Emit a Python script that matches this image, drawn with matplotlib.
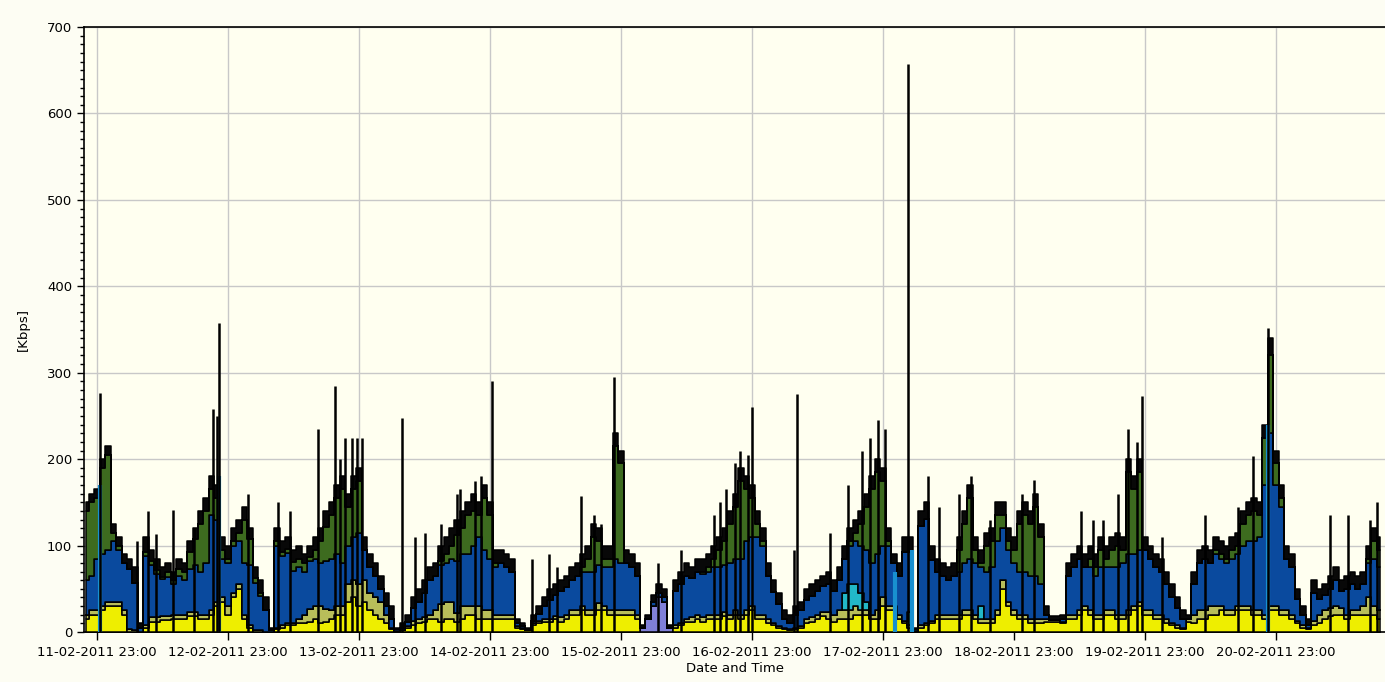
import numpy as np
import pandas as pd
import matplotlib
matplotlib.use("Agg")
import matplotlib.pyplot as plt
from matplotlib.ticker import MultipleLocator

# hourly samples, first one at 11-02-2011 21:00
start = pd.Timestamp("2011-02-11 21:00")

# layer heights in Kbps, bottom to top
yellow = [15,20,20,25,30,30,30,20,0,0,0,5,12,12,14,14,15,15,15,18,18,15,15,20,
          30,35,20,40,50,15,5,0,0,0,0,3,5,8,8,10,10,12,15,10,12,15,20,20,
          35,40,30,35,25,20,15,10,3,1,2,5,8,10,12,15,15,12,15,15,12,15,20,20,
          15,15,15,15,15,15,15,5,4,2,8,10,12,12,15,12,15,20,20,25,20,20,25,25,
          20,20,20,20,20,15,0,0,0,0,0,0,5,8,12,12,15,12,15,15,15,18,15,20,
          15,20,25,15,15,10,8,5,3,2,3,5,10,12,15,18,15,12,15,15,15,20,20,20,
          15,15,30,25,25,15,10,5,1,5,8,10,15,15,15,15,15,20,20,15,10,10,10,20,
          50,30,20,15,15,10,10,10,12,12,12,10,15,15,20,25,20,15,15,20,20,15,15,20,
          25,30,20,20,15,15,10,8,5,3,12,10,15,15,20,20,25,20,20,25,25,25,20,20,
          15,25,25,20,20,15,10,5,3,8,10,15,18,20,20,15,20,20,20,20,20,15]
olive = [5,5,5,5,5,5,5,5,3,2,0,3,5,5,5,5,5,5,5,5,5,5,5,5,
         5,5,10,5,5,5,3,2,2,0,0,2,3,3,3,5,10,15,15,20,15,10,10,10,
         20,20,25,25,20,20,20,10,2,0,0,2,5,5,5,5,10,20,20,20,10,15,10,10,
         15,10,10,5,5,5,5,2,1,0,2,3,3,3,3,5,5,5,5,5,5,5,8,5,
         5,5,5,5,5,5,0,0,0,0,0,0,3,3,3,5,5,5,5,5,5,5,5,5,
         5,5,5,5,5,5,3,2,2,1,2,2,5,5,5,5,8,8,10,10,10,10,5,5,
         5,10,10,5,5,5,3,3,0,3,3,3,5,5,5,5,5,5,5,5,5,5,5,5,
         10,5,5,5,5,5,5,5,3,2,2,2,5,5,5,5,5,5,5,5,5,5,5,5,
         5,5,5,5,5,5,5,3,3,2,3,10,10,10,10,10,5,5,5,5,5,5,5,5,
         5,5,5,5,5,5,3,3,2,5,10,10,10,10,8,5,5,5,10,20,10,10]
blue = [40,40,60,60,60,70,60,55,70,55,5,80,60,50,42,45,35,45,40,50,55,50,60,110,
        95,45,50,55,50,60,70,55,40,25,2,95,80,80,60,60,50,55,55,50,55,60,60,50,
        45,50,60,35,30,25,15,10,10,2,3,5,15,20,28,40,40,45,45,50,60,60,60,70,
        80,70,60,55,60,55,50,3,2,1,3,8,15,22,25,30,32,35,40,40,45,45,45,45,
        50,60,55,55,50,45,0,0,5,5,5,0,40,45,50,45,50,50,50,55,55,55,60,60,
        65,80,80,90,80,50,35,25,10,8,15,18,22,25,27,30,32,28,35,40,45,50,55,60,
        60,65,60,70,50,45,80,70,2,115,120,70,50,45,40,45,50,55,60,60,45,55,60,80,
        60,60,55,50,50,50,50,40,5,0,0,3,45,55,60,45,50,45,55,50,50,55,60,65,
        60,60,70,60,55,50,40,30,20,10,0,35,55,60,50,60,55,55,60,60,70,75,80,85,
        150,200,140,120,60,55,25,12,3,32,18,18,22,30,20,30,30,25,25,40,55,50]
green = [80,85,70,100,110,10,5,0,0,0,0,5,5,5,3,5,5,8,10,20,30,55,60,30,
         25,10,5,5,10,50,30,5,3,0,0,5,5,5,10,10,10,5,10,25,40,50,65,85,
         45,55,60,0,0,0,0,0,0,0,0,0,0,0,0,0,0,5,10,15,30,30,45,40,
         25,60,50,5,0,0,0,0,0,0,0,0,0,0,0,0,0,0,0,5,15,40,27,10,
         10,130,115,0,0,0,0,0,0,0,0,0,0,0,0,0,0,3,5,10,20,27,45,60,
         90,60,45,15,5,0,0,0,0,0,0,0,0,0,0,0,0,0,0,0,5,10,25,50,
         85,95,75,5,0,0,0,0,0,0,0,0,0,0,0,0,25,45,70,15,5,30,30,30,
         15,10,15,55,65,60,80,55,0,0,0,0,0,0,0,0,10,10,20,10,20,25,15,95,
         75,90,0,0,0,0,0,0,0,0,0,0,0,0,0,5,5,5,10,10,25,30,35,25,
         55,90,25,10,0,0,0,0,0,0,0,0,0,0,0,0,0,0,0,5,20,20]
black = [10,10,10,10,10,10,10,10,12,18,5,17,13,13,11,11,10,12,10,12,12,15,15,15,
         15,15,15,15,15,15,12,13,15,15,3,15,12,14,14,15,10,13,15,15,18,15,15,15,
         15,15,15,15,15,15,15,15,15,2,5,8,12,15,15,15,15,18,20,20,18,20,15,20,
         15,15,15,15,15,15,15,5,3,2,7,9,10,13,12,13,13,15,15,15,15,15,15,15,
         15,15,15,15,15,15,3,5,8,10,10,3,12,14,15,13,15,15,15,15,15,15,15,15,
         15,15,15,15,15,15,14,13,10,9,10,10,13,13,13,12,15,12,15,15,15,15,15,15,
         15,15,15,15,10,15,17,17,2,17,19,17,15,15,15,15,15,15,15,15,15,15,15,15,
         15,15,15,15,15,15,15,15,10,4,4,5,15,15,15,15,15,15,15,15,15,15,15,15,
         15,15,15,15,15,15,15,14,12,10,5,15,15,15,15,15,15,15,15,15,15,15,15,15,
         15,20,15,15,15,15,12,10,7,15,12,12,15,15,12,15,15,15,15,15,15,15]

# small layers that only show up now and then (hour index -> Kbps)
cyan_hours = [139, 140, 141, 142, 143, 151, 164]
cyan_vals = [20, 30, 25, 20, 10, 15, 15]
purple_hours = [102, 103, 104, 105, 106, 107]
purple_vals = [5, 15, 30, 40, 35, 5]

# narrow peaks (hours after start, Kbps)
spike_hours = [2.56, 9.34, 11.36, 12.8, 15.9, 19.8, 23.3, 24.0, 24.4, 29.7,
               35.2, 37.4, 42.5, 45.6, 46.5, 47.5, 48.7, 49.7, 50.6, 57.9,
               60.3, 62.1, 65.0, 68.0, 68.5, 71.3, 72.4, 74.4, 81.7, 84.8,
               86.3, 90.7, 93.1, 94.4, 96.7, 104.8, 109.0, 115.1, 116.2, 117.3,
               118.9, 119.8, 121.3, 122.0, 129.7, 130.3, 136.3, 139.6, 142.2, 143.6,
               145.1, 146.4, 150.6, 154.3, 156.3, 159.9, 162.1, 165.6, 171.5, 173.7,
               182.3, 184.5, 186.3, 189.1, 190.9, 192.6, 193.5, 197.1, 205.0, 211.1,
               213.8, 216.6, 227.9, 231.2, 235.2, 236.5]
spike_vals = [276, 105, 140, 113, 141, 120, 258, 250, 358, 160,
              150, 140, 235, 285, 200, 225, 225, 225, 225, 248,
              110, 115, 125, 160, 165, 175, 180, 290, 85, 90,
              75, 157, 135, 125, 295, 80, 95, 135, 150, 165,
              195, 210, 205, 260, 95, 275, 115, 170, 210, 225,
              245, 235, 657, 180, 145, 160, 180, 130, 160, 176,
              140, 130, 130, 160, 235, 220, 273, 110, 135, 145,
              204, 352, 135, 135, 130, 150]

# light blue stripes from the baseline
stripe_hours = [2.56, 24.4, 148.2, 151.3, 216.6]
stripe_vals = [170, 180, 70, 95, 240]

tick_labels = ["11-02-2011 23:00", "12-02-2011 23:00", "13-02-2011 23:00",
               "14-02-2011 23:00", "15-02-2011 23:00", "16-02-2011 23:00",
               "17-02-2011 23:00", "18-02-2011 23:00", "19-02-2011 23:00",
               "20-02-2011 23:00"]

n = len(yellow)
t = pd.date_range(start, periods=n, freq="h")
cyan = np.zeros(n)
cyan[cyan_hours] = cyan_vals
purple = np.zeros(n)
purple[purple_hours] = purple_vals

layers = [
    (purple, "#8080D8"),
    (np.array(yellow, float), "#EEEE00"),
    (np.array(olive, float), "#B8BE5A"),
    (cyan, "#22B8C8"),
    (np.array(blue, float), "#0A4A9E"),
    (np.array(green, float), "#3D6B1F"),
    (np.array(black, float), "#080808"),
]

plt.rcParams["font.family"] = ["DejaVu Sans"]
fig = plt.figure(figsize=(13.85, 6.82), dpi=100, facecolor="#FDFDF3")
ax = fig.add_axes([0.0607, 0.0733, 0.9393, 0.8871])
ax.set_facecolor("#FFFFF0")

base = np.zeros(n)
for vals, col in layers:
    ax.fill_between(t, base, base + vals, step="mid", facecolor=col,
                    edgecolor="#000000", linewidth=1.1, zorder=3)
    base = base + vals

st = start + pd.to_timedelta(stripe_hours, unit="h")
ax.vlines(st, 0, stripe_vals, colors="#1890D0", linewidth=3, zorder=4)
sp = start + pd.to_timedelta(spike_hours, unit="h")
ax.vlines(sp, 0, spike_vals, colors="#000000", linewidth=1.8, zorder=5)

ax.set_ylim(0, 700)
ax.set_xlim(start - pd.Timedelta(hours=0.37), start + pd.Timedelta(hours=238))
ax.yaxis.set_major_locator(MultipleLocator(100))
ax.yaxis.set_minor_locator(MultipleLocator(10))

ticks = pd.date_range("2011-02-11 23:00", periods=len(tick_labels), freq="D")
ax.set_xticks(ticks)
ax.set_xticklabels(tick_labels)

ax.grid(True, which="major", color="#C8C8C8", linewidth=1, zorder=0)
ax.set_axisbelow(True)
ax.tick_params(axis="both", which="major", length=5, width=1, labelsize=9.5,
               colors="#000000", direction="out")
ax.tick_params(axis="x", which="major", length=6, pad=4)
ax.tick_params(axis="y", which="minor", length=3, width=1)
ax.spines["right"].set_visible(False)
for s in ["left", "top", "bottom"]:
    ax.spines[s].set_linewidth(1.2)

ax.set_xlabel("Date and Time", fontsize=9.5, labelpad=2)
ax.set_ylabel("[Kbps]", fontsize=9.5, labelpad=12)

fig.savefig("out.png", dpi=100, facecolor=fig.get_facecolor())
